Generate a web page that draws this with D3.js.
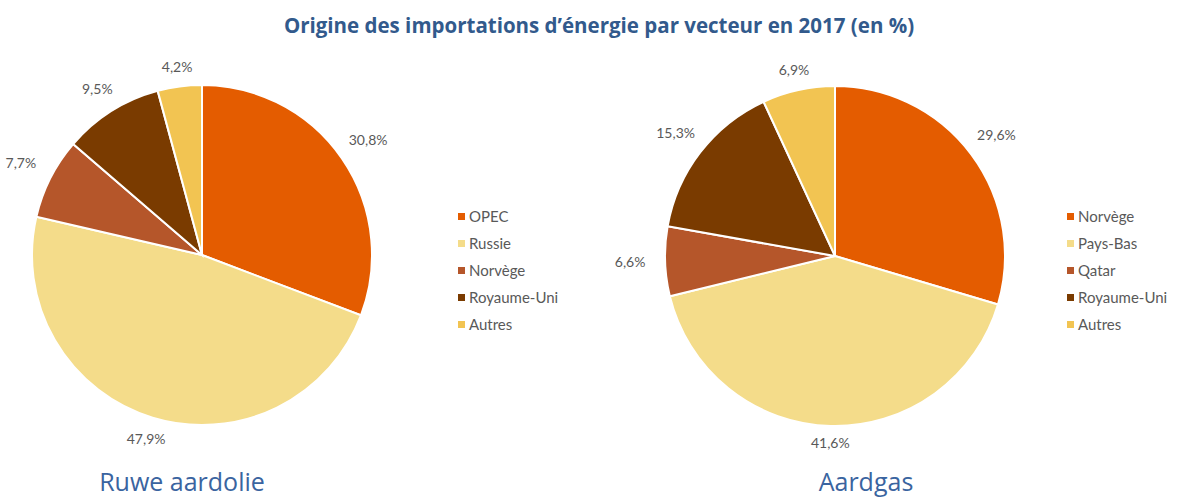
<!DOCTYPE html>
<html lang="fr">
<head>
  <meta charset="UTF-8">
  <title>Origine des importations d'énergie</title>
  <script src="https://d3js.org/d3.v7.min.js"></script>
  <style>
    body { margin: 0; background: #fff; }
    svg text { font-family: Lato, "Open Sans", sans-serif; }
    .title { font-family: "Open Sans", sans-serif !important; font-size: 20.5px; font-weight: bold; fill: #325A8C; text-anchor: middle; }
    .sub { font-family: "Open Sans", sans-serif !important; font-size: 25px; fill: #3A64A0; text-anchor: middle; }
    .lbl { font-size: 14px; fill: #595959; text-anchor: middle; }
    .leg { font-size: 15px; fill: #595959; }
  </style>
</head>
<body>
  <div id="chart"></div>
  <script>
    // Pie 1: crude oil
    const oilCats = ["OPEC", "Russie", "Norvège", "Royaume-Uni", "Autres"];
    const oilVals = [30.8, 47.9, 7.7, 9.5, 4.2];
    // Pie 2: natural gas
    const gasCats = ["Norvège", "Pays-Bas", "Qatar", "Royaume-Uni", "Autres"];
    const gasVals = [29.6, 41.6, 6.6, 15.3, 6.9];

    const sliceColors = ["#E45C00", "#F4DC8A", "#B5562A", "#7A3B00", "#F2C452"];

    const W = 1181, H = 500;
    const svg = d3.select("#chart").append("svg")
      .attr("width", W).attr("height", H);

    svg.append("text").attr("class", "title")
      .attr("x", 599).attr("y", 33)
      .text("Origine des importations d’énergie par vecteur en 2017 (en %)");

    const fmt = v => d3.format(".1f")(v).replace(".", ",") + "%";

    function drawPie(cats, vals, cx, cy, r, legX, subtitle, subX) {
      const g = svg.append("g").attr("transform", `translate(${cx},${cy})`);
      const color = d3.scaleOrdinal().domain(cats).range(sliceColors);
      const pie = d3.pie().sort(null).value(d => d.v);
      const arcs = pie(cats.map((c, i) => ({ c: c, v: vals[i] })));
      const arc = d3.arc().innerRadius(0).outerRadius(r);

      g.selectAll("path").data(arcs).enter().append("path")
        .attr("d", arc)
        .attr("fill", d => color(d.data.c))
        .attr("stroke", "#fff")
        .attr("stroke-width", 2);

      // labels sit outside the slice; push wider when the label is to the side
      g.selectAll(".lbl").data(arcs).enter().append("text")
        .attr("class", "lbl")
        .attr("transform", d => {
          const a = (d.startAngle + d.endAngle) / 2;
          const rr = r + 17 + Math.abs(Math.sin(a)) * 18;
          return `translate(${Math.sin(a) * rr},${-Math.cos(a) * rr})`;
        })
        .attr("dy", "0.35em")
        .text(d => fmt(d.data.v));

      // Legend
      const leg = svg.append("g").attr("transform", `translate(${legX},217)`);
      const rows = leg.selectAll("g").data(cats).enter().append("g")
        .attr("transform", (d, i) => `translate(0,${i * 27})`);
      rows.append("rect").attr("x", 0).attr("y", -4).attr("width", 7).attr("height", 7)
        .attr("fill", d => color(d));
      rows.append("text").attr("class", "leg").attr("x", 11).attr("y", 0)
        .attr("dy", "0.35em").text(d => d);

      svg.append("text").attr("class", "sub")
        .attr("x", subX).attr("y", 491).text(subtitle);
    }

    drawPie(oilCats, oilVals, 202, 255, 170, 458, "Ruwe aardolie", 182);
    drawPie(gasCats, gasVals, 835, 256, 170, 1067, "Aardgas", 866);
  </script>
</body>
</html>
